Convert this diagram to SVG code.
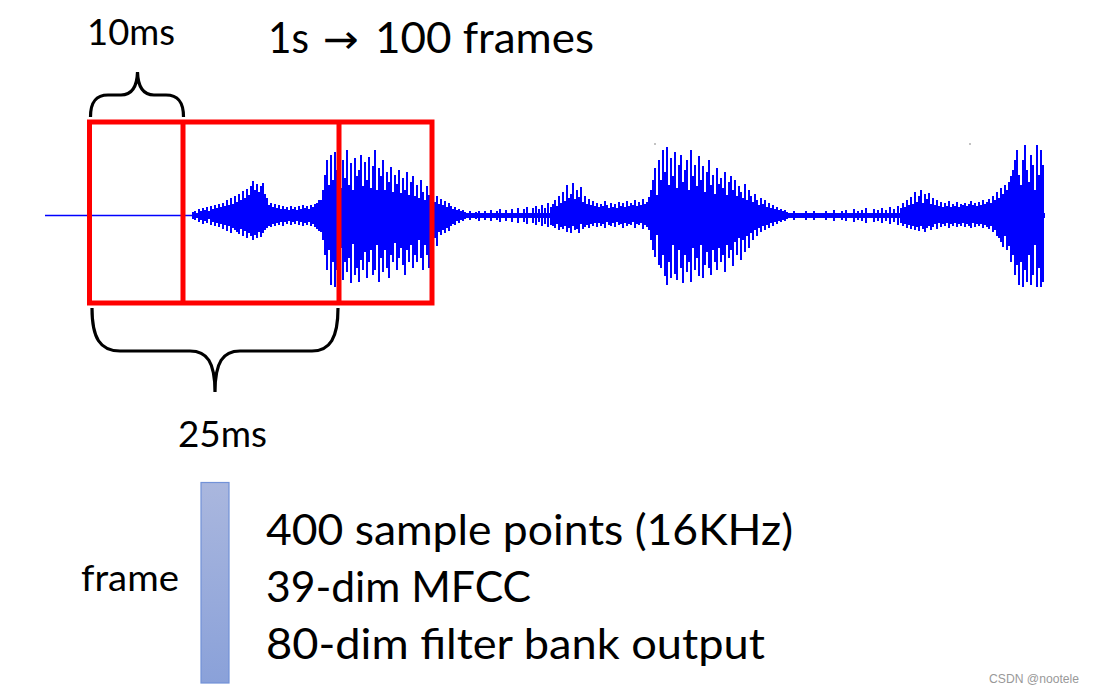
<svg xmlns="http://www.w3.org/2000/svg" width="1094" height="693" viewBox="0 0 1094 693">
<style>
.t{font-family:Lato,"Liberation Sans","DejaVu Sans",sans-serif;fill:#000}
.wave{stroke:#0000ff;stroke-width:2;fill:none}
.core{fill:#0000ff}
.brace{fill:none;stroke:#000;stroke-width:3.2;stroke-linecap:butt}
.frame{fill:none;stroke:#ff0000;stroke-width:5}
</style>
<defs>
<linearGradient id="barGrad" x1="0" y1="0" x2="0" y2="1">
<stop offset="0" stop-color="#aab7de"/>
<stop offset="1" stop-color="#8aa1d9"/>
</linearGradient>
</defs>
<rect width="1094" height="693" fill="#fff"/>

<g id="waveform">
<path d="M45 215.5H193" stroke="#0000ff" stroke-width="1.6"/>
<path class="core" d="M193 213H1045V218H193Z"/>
<path class="core" d="M322 210L327 196L345 193L380 198L420 205L445 210L445 221L420 228L380 235L345 239L327 237L322 222Z"/>
<path class="core" d="M652 205L660 196L700 196L730 201L763 208L785 213L785 219L763 224L730 232L700 236L660 236L652 228Z"/>
<path class="core" d="M1013 206L1018 197L1044 197L1044 238L1018 238L1013 228Z"/>
<path class="wave" d="M193 212V219M195 211V220M197 213V218M199 209V222M201 211V220M203 208V224M205 210V221M207 207V223M209 211V219M211 206V225M213 209V222M215 205V226M217 208V223M219 204V227M221 207V224M223 203V229M225 206V225M227 200V231M229 205V226M231 198V233M233 204V228M235 196V230M237 202V232M239 194V234M241 200V229M243 191V236M245 198V231M247 189V238M249 195V233M251 186V236M253 181V240M255 190V235M257 184V238M259 192V232M261 186V237M263 183V233M265 194V230M267 198V228M269 205V226M271 203V227M273 207V224M275 204V226M277 208V223M279 205V225M281 209V222M283 206V226M285 209V222M287 207V224M289 210V221M291 206V225M293 209V222M295 207V224M297 210V221M299 206V225M301 209V222M303 205V226M305 208V223M307 206V225M309 209V222M311 205V226M313 207V224M315 204V227M317 203V229M319 200V231"/>
<path class="wave" d="M321 200V232M323 190V240M325 175V255M327 160V270M329 185V250M331 155V285M333 180V262M335 152V287M337 170V270M339 165V275M341 188V248M343 160V280M345 178V262M347 150V272M349 185V258M351 163V283M353 190V244M355 158V275M357 176V268M359 170V282M361 155V260M363 186V270M365 162V252M367 180V278M369 157V262M371 188V250M373 166V275M375 150V270M377 190V245M379 168V282M381 176V258M383 160V272M385 190V250M387 172V268M389 182V278M391 167V255M393 192V262M395 175V243M397 184V270M399 170V258M401 193V248M403 178V265M405 190V275M407 172V250M409 195V262M411 182V245M413 176V268M415 196V255M417 185V262M419 198V240M421 180V258M423 192V270M425 200V245M427 186V255M429 195V268M431 200V240M433 188V252M435 202V238M437 196V246M439 204V232M441 199V235M443 205V230M445 201V233M447 207V228M449 203V231M451 206V226M453 209V224M455 207V225M457 210V221M459 209V223M461 211V220M463 210V221M465 212V219"/>
<path class="wave" d="M470 211V220M476 212V219M479 211V221M485 211V220M491 210V221M497 211V220M500 209V222M506 210V221M512 209V222M518 208V223M524 209V222M527 207V224M533 208V223M536 206V225M539 209V222M542 205V226M545 208V224M548 203V227M551 207V225"/>
<path class="wave" d="M553 204V226M555 200V228M557 206V224M559 196V230M561 203V227M563 192V229M565 201V226M567 185V232M569 198V228M571 194V233M573 183V226M575 199V230M577 190V229M579 197V233M581 187V224M583 202V229M585 196V227M587 204V225M589 199V228M591 205V224M593 201V226M595 206V223M597 203V227M599 207V223M601 204V226M603 206V224M605 201V228M607 205V222M609 208V225M611 203V226M613 207V223M615 204V227M617 208V222M619 202V225M621 206V224M623 203V228M625 207V223M627 201V226M629 206V224M631 203V225M633 205V222M635 200V228M637 206V224M639 202V225M641 205V223M643 199V229M645 204V225M647 202V227M649 197V230"/>
<path class="wave" d="M651 190V240M653 180V250M655 168V257M657 195V235M659 160V265M661 180V268M663 150V255M665 172V276M667 147V285M669 185V262M671 158V278M673 176V245M675 152V274M677 188V280M679 165V250M681 155V268M683 182V283M685 170V255M687 160V272M689 190V262M691 150V282M693 176V248M695 165V270M697 186V258M699 156V276M701 180V245M703 166V278M705 192V265M707 172V252M709 160V268M711 185V275M713 175V250M715 194V262M717 168V270M719 184V248M721 178V262M723 188V255M725 172V272M727 195V245M729 182V258M731 176V250M733 190V266M735 180V242M737 196V255M739 186V238M741 192V260M743 198V240M745 184V252M747 200V236M749 190V248M751 196V233M753 202V240M755 194V230M757 200V236M759 205V228M761 198V232M763 204V226M765 200V230M767 207V225M769 203V228M771 208V223M773 205V226M775 209V222M777 207V224M779 210V221M781 209V222M783 211V220M785 210V221M787 212V219"/>
<path class="wave" d="M794 211V220M806 211V220M814 211V220M826 211V220M834 210V221M842 211V220M846 210V221M854 209V222M858 211V220M862 210V221M866 208V223M874 209V222M878 210V221M882 208V223M886 210V221M890 207V224M894 209V222M898 206V225"/>
<path class="wave" d="M901 208V223M903 203V226M905 207V224M907 200V228M909 205V225M911 197V229M913 204V226M915 192V230M917 202V227M919 196V231M921 190V226M923 203V229M925 194V232M927 199V228M929 193V226M931 204V230M933 198V227M935 205V224M937 200V229M939 206V223M941 202V227M943 207V224M945 203V226M947 206V223M949 201V228M951 207V224M953 204V226M955 206V223M957 202V227M959 207V224M961 204V226M963 205V223M965 203V227M967 206V224M969 204V226M971 201V228M973 205V223M975 203V227M977 206V224M979 202V226M981 205V224M983 200V228M985 204V225M987 202V227M989 199V229"/>
<path class="wave" d="M991 203V226M993 196V232M995 200V230M997 192V236M999 198V238M1001 188V242M1003 194V247M1005 185V236M1007 190V250M1009 182V246M1011 176V262M1013 170V255M1015 160V275M1017 150V265M1019 175V285M1021 185V262M1023 160V287M1025 145V270M1027 170V282M1029 182V255M1031 155V285M1033 165V275M1035 190V245M1037 145V287M1039 175V268M1041 150V287M1043 165V282"/>
<rect x="654" y="143.5" width="2" height="1" fill="#888"/>
<rect x="969" y="143.5" width="2" height="1" fill="#888"/>
</g>

<g id="frames">
<rect class="frame" x="89.5" y="122" width="342.5" height="181"/>
<line class="frame" x1="183" y1="122" x2="183" y2="303"/>
<line class="frame" x1="339" y1="122" x2="339" y2="303"/>
</g>

<g id="braces">
<path id="brace-10ms" class="brace" d="M90.5 117C90.5 102 96 95 108 95L121 95C131 95 137 88 137.5 72C138 88 144 95 154 95L166 95C178 95 183.5 102 183.5 117"/>
<path id="brace-25ms" class="brace" d="M92 308C92 338 100 351 120 351L190 351C207 351 215 362 215 392C215 362 223 351 240 351L312 351C330 351 338 338 338 308"/>
</g>

<g id="label-10ms"><text class="t" x="87" y="45" font-size="36" textLength="88" lengthAdjust="spacingAndGlyphs">10ms</text></g>
<g id="label-title">
<text class="t" x="268" y="53" font-size="43" textLength="41" lengthAdjust="spacingAndGlyphs">1s</text>
<text x="323" y="53" font-size="40" font-family="'DejaVu Sans',sans-serif" textLength="36" lengthAdjust="spacingAndGlyphs">→</text>
<text class="t" x="375" y="53" font-size="43" textLength="219" lengthAdjust="spacingAndGlyphs">100 frames</text>
</g>
<g id="label-25ms"><text class="t" x="178" y="447" font-size="36" textLength="89" lengthAdjust="spacingAndGlyphs">25ms</text></g>

<g id="frame-node">
<rect x="201" y="482.5" width="28" height="200.5" fill="url(#barGrad)" stroke="#7292d8" stroke-width="1.2"/>
<text class="t" x="81" y="591" font-size="36" textLength="98" lengthAdjust="spacingAndGlyphs">frame</text>
</g>

<g id="features">
<text class="t" x="266" y="545" font-size="43" textLength="527" lengthAdjust="spacingAndGlyphs">400 sample points (16KHz)</text>
<text class="t" x="266" y="602" font-size="43" textLength="265" lengthAdjust="spacingAndGlyphs">39-dim MFCC</text>
<text class="t" x="266" y="659" font-size="43" textLength="499" lengthAdjust="spacingAndGlyphs">80-dim filter bank output</text>
</g>

<g id="watermark"><text x="989" y="683" font-size="12" font-family="'Liberation Sans',Arial,sans-serif" fill="#999" textLength="90" lengthAdjust="spacingAndGlyphs">CSDN @nootele</text></g>
</svg>
